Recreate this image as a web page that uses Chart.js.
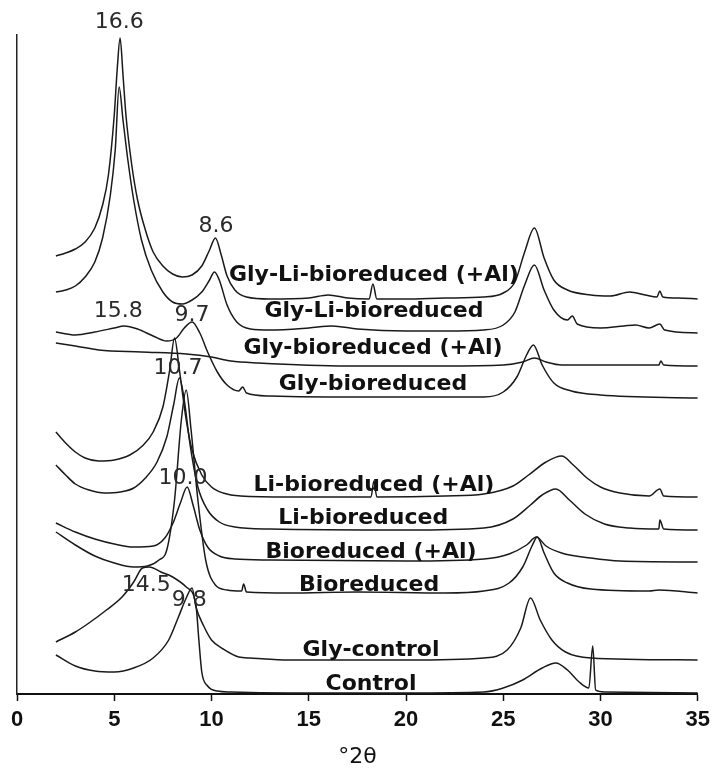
<!DOCTYPE html>
<html><head><meta charset="utf-8">
<script src="https://cdn.jsdelivr.net/npm/chart.js@4.4.1/dist/chart.umd.min.js"></script>
<style>html,body{margin:0;padding:0;background:#fff;}canvas{display:block;}</style>
</head><body>
<canvas id="c" width="716" height="776"></canvas>
<script>
// x: degrees 2-theta, y: intensity (arbitrary units, traces stacked with offsets)
const glyLiBioAl = [[2.0,438],[2.5,441],[3.0,445],[3.5,452],[4.0,466],[4.4,489],[4.7,519],[5.0,579],[5.15,624],[5.3,656],[5.45,619],[5.6,579],[5.9,529],[6.2,494],[6.6,464],[7.0,442],[7.5,428],[8.0,420],[8.5,417],[9.0,419],[9.5,428],[9.9,444],[10.2,456],[10.5,439],[10.8,418],[11.2,404],[11.8,397],[13,395],[15,396],[16,399],[17,396],[18.1,395],[18.3,410],[18.5,395],[20,395],[22,396],[24,397],[25,401],[25.6,412],[26.1,442],[26.6,466],[27.1,436],[27.6,414],[28.3,404],[29.5,399],[30.5,398],[31.5,402],[32.3,399],[32.9,397],[33.05,403],[33.2,397],[34,396],[35,395]];
const glyLiBio = [[2.0,402],[2.5,404],[3.0,408],[3.5,417],[4.0,432],[4.4,456],[4.8,499],[5.05,544],[5.25,607],[5.45,574],[5.7,534],[6.0,494],[6.4,454],[6.9,424],[7.5,402],[8.0,392],[8.5,390],[9.0,394],[9.5,402],[9.9,414],[10.15,422],[10.4,414],[10.8,389],[11.3,372],[12,365],[13,364],[15,366],[16.2,368],[17.5,365],[20,363],[22,363],[24,364],[25,369],[25.6,382],[26.1,409],[26.6,429],[27.1,404],[27.6,384],[28.3,374],[28.55,378],[28.8,370],[30,366],[31.2,368],[31.8,369],[32.5,366],[33.05,370],[33.3,364],[35,361]];
const glyBioAl = [[2.0,351],[3.0,348],[4.2,344],[6.4,342],[8.7,340],[10,337],[11,333],[12.4,331],[17,328],[22,328],[25,329],[26,332],[26.6,336],[27.2,332],[28,329],[33,329],[33.1,333],[33.25,329],[35,328]];
const glyBio = [[2.0,362],[3.0,359],[4.0,362],[5.0,366],[5.5,368],[6.2,365],[7.0,358],[7.7,353],[8.2,356],[8.6,366],[9.0,372],[9.4,361],[9.8,342],[10.3,322],[10.8,309],[11.4,303],[11.6,307],[11.8,301],[13,298],[16,297],[20,297],[24,297],[25,302],[25.7,317],[26.2,339],[26.55,349],[27.0,329],[27.6,311],[28.5,303],[30,299],[35,296]];
const liBioAl = [[2.0,262],[2.5,251],[3.0,242],[3.5,236],[4.2,233],[5.0,234],[5.8,239],[6.5,249],[7.0,262],[7.5,287],[7.85,324],[8.1,356],[8.35,324],[8.7,274],[9.0,244],[9.5,219],[10,207],[10.6,201],[11.5,198],[14,197],[18.2,197],[18.35,213],[18.5,197],[22,198],[24,200],[25.5,208],[26.3,219],[27.2,232],[28.0,238],[28.6,229],[29.3,216],[30.0,207],[31,201],[32.5,198],[33.05,205],[33.25,198],[35,197]];
const liBio = [[2.0,229],[2.5,219],[3.0,210],[3.7,204],[4.5,201],[5.3,202],[6.0,206],[6.6,216],[7.2,232],[7.7,257],[8.05,289],[8.35,316],[8.6,294],[8.9,249],[9.3,207],[9.8,184],[10.4,172],[11.2,167],[13,165],[20,164],[24,166],[25.5,175],[26.4,189],[27.0,199],[27.7,205],[28.4,194],[29.2,180],[30.2,170],[31.5,166],[33.0,165],[33.05,174],[33.25,165],[35,164]];
const bioAl = [[2.0,171],[3.0,162],[4.0,155],[5.0,150],[6.0,147],[7.0,148],[7.6,156],[8.0,170],[8.4,191],[8.75,207],[9.05,189],[9.4,164],[9.8,147],[10.4,138],[11.2,135],[13,134],[20,133],[24,135],[25.3,140],[26.2,149],[26.7,157],[27.2,148],[28.0,141],[29.5,136],[31,133],[35,132]];
const bio = [[2.0,162],[3.0,149],[4.0,138],[5.0,131],[6.0,127],[6.7,128],[7.3,134],[7.7,144],[8.1,194],[8.45,274],[8.7,304],[8.95,264],[9.3,194],[9.7,134],[10.2,109],[10.8,104],[11.55,103],[11.65,110],[11.8,102],[14,101],[17.5,102],[22,101],[24,103],[25.3,111],[26.0,127],[26.5,149],[26.75,157],[27.1,141],[27.6,121],[28.3,111],[29.5,105],[32.5,103],[33.0,104],[35,101]];
const glyControl = [[2.0,39],[3.0,28],[4.0,23],[5.0,22],[6.0,26],[7.0,36],[7.8,54],[8.3,77],[8.7,96],[9.0,106],[9.2,87],[9.6,68],[10.0,54],[10.6,45],[11.4,37],[12,36],[14,34],[20,34],[24,36],[25.2,44],[25.9,66],[26.4,96],[26.9,74],[27.5,54],[28.2,42],[29.5,36],[35,34]];
const control = [[2.0,52],[3.0,62],[3.7,71],[4.6,84],[5.4,97],[6.0,112],[6.45,126],[6.8,127],[7.4,122],[8.0,117],[8.7,107],[9.2,89],[9.35,54],[9.5,22],[9.8,8],[10.3,3],[11,2],[14,1],[20,1],[24,2],[25,6],[26,14],[27,26],[27.7,31],[28.3,24],[28.9,12],[29.4,6],[29.6,48],[29.75,4],[30.2,2],[35,1]];

const seriesNames = ['Gly-Li-bioreduced (+Al)','Gly-Li-bioreduced','Gly-bioreduced (+Al)','Gly-bioreduced','Li-bioreduced (+Al)','Li-bioreduced','Bioreduced (+Al)','Bioreduced','Gly-control','Control'];
const seriesData = [glyLiBioAl, glyLiBio, glyBioAl, glyBio, liBioAl, liBio, bioAl, bio, glyControl, control];
// label anchor points (2theta, intensity)
const seriesLabelAt = [[18.35,419],[18.35,383],[18.3,346],[18.3,310],[18.35,209],[17.8,176],[18.2,142],[18.1,109],[18.2,44],[18.2,10]];
const peakTexts = ['16.6','8.6','15.8','9.7','10.7','10.0','14.5','9.8'];
const peakTextAt = [[5.26,672],[10.23,468],[5.2,383],[9.0,379],[8.28,326],[8.54,216],[6.64,109],[8.85,94]];
const xTicks = [0,5,10,15,20,25,30,35];

const textPlugin = {
  id: 'texts',
  beforeDraw(chart) {
    const ctx = chart.ctx;
    ctx.save(); ctx.fillStyle = '#fff'; ctx.fillRect(0,0,chart.width,chart.height); ctx.restore();
  },
  afterDatasetsDraw(chart) {
    const ctx = chart.ctx, xs = chart.scales.x, ys = chart.scales.y;
    ctx.save();
    ctx.textAlign = 'center'; ctx.textBaseline = 'middle';
    ctx.fillStyle = '#111';
    ctx.font = 'bold 22px "DejaVu Sans"';
    seriesNames.forEach((n,i) => {
      ctx.fillText(n, xs.getPixelForValue(seriesLabelAt[i][0]), ys.getPixelForValue(seriesLabelAt[i][1]));
    });
    ctx.fillStyle = '#2a2a2a';
    ctx.font = '22px "DejaVu Sans"';
    peakTexts.forEach((t,i) => {
      ctx.fillText(t, xs.getPixelForValue(peakTextAt[i][0]), ys.getPixelForValue(peakTextAt[i][1]));
    });
    ctx.restore();
  }
};

new Chart(document.getElementById('c'), {
  type: 'line',
  data: {
    datasets: seriesData.map((d,i) => ({
      label: seriesNames[i],
      data: d.map(p => ({x: p[0], y: p[1]})),
      borderColor: '#1a1a1a',
      borderWidth: 1.5,
      pointRadius: 0,
      fill: false,
      cubicInterpolationMode: 'monotone'
    }))
  },
  options: {
    responsive: false,
    animation: false,
    layout: { padding: { top: 35, right: 16, left: 0, bottom: 0 } },
    plugins: { legend: { display: false }, tooltip: { enabled: false } },
    scales: {
      x: {
        type: 'linear', min: 0, max: 35,
        afterFit: s => { s.height = 82; },
        afterBuildTicks: s => { s.ticks = xTicks.map(v => ({value: v})); },
        grid: { display: true, drawOnChartArea: false, drawTicks: true, tickLength: 7, tickColor: '#111', tickWidth: 1.5 },
        border: { display: true, color: '#111', width: 2 },
        ticks: { color: '#111', font: { family: 'Liberation Sans', weight: 'bold', size: 22 }, padding: 6, maxRotation: 0 },
        title: { display: true, text: '°2θ', color: '#111', font: { family: 'DejaVu Sans', size: 22 }, padding: { top: 0, bottom: 6 } }
      },
      y: {
        min: 0, max: 659,
        afterFit: s => { s.width = 17; },
        grid: { display: false },
        border: { display: true, color: '#222', width: 1.5 },
        ticks: { display: false }
      }
    }
  },
  plugins: [textPlugin]
});
</script>
</body></html>
